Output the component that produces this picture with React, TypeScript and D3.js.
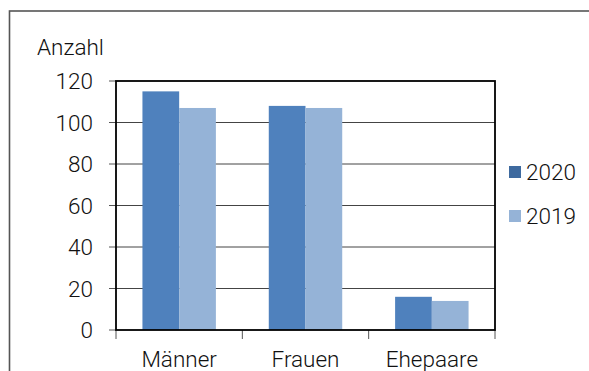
import React from "react";
import * as d3 from "d3";

const categories = ["Männer", "Frauen", "Ehepaare"];
const seriesNames = ["2020", "2019"];
const values2020 = [115, 108, 16];
const values2019 = [107, 107, 14];
const yTicks = [0, 20, 40, 60, 80, 100, 120];

const colors = ["#4F81BD", "#95B3D7"];
const legendColors = ["#3E6A9F", "#95B3D7"];
const font = "Roboto, 'Liberation Sans', sans-serif";
const fs = 22.5;

const App = () => {
  const width = 589;
  const height = 371;
  const left = 116;
  const right = 495;
  const top = 81;
  const bottom = 330;

  const x = d3.scaleBand().domain(categories).range([left, right]);
  const x1 = d3
    .scaleBand()
    .domain(seriesNames)
    .range([0, x.bandwidth()])
    .paddingOuter(0.72)
    .paddingInner(0);
  const y = d3.scaleLinear().domain([0, 120]).range([bottom, top]);

  const series = [values2020, values2019];

  return (
    <svg
      width={width}
      height={height}
      style={{ position: "absolute", left: 0, top: 0, background: "#fff" }}
      fontFamily={font}
      fontWeight={300}
    >
      <rect x={9.5} y={11} width={620} height={400} fill="#fff" stroke="#555" strokeWidth={1.6} />
      <text x={37} y={55} fontSize={fs} fill="#111">Anzahl</text>

      {yTicks.map((t) => (
        <g key={t}>
          {t > 0 && t < 120 && (
            <line x1={left} x2={right} y1={y(t)} y2={y(t)} stroke="#444" strokeWidth={1} />
          )}
          <line x1={left - 7} x2={left} y1={y(t)} y2={y(t)} stroke="#555" strokeWidth={1} />
          <text x={93} y={y(t)} dy="0.36em" textAnchor="end" fontSize={fs} fill="#111">
            {t}
          </text>
        </g>
      ))}

      {categories.map((c, i) => (
        <g key={c}>
          {series.map((s, j) => (
            <rect
              key={j}
              x={(x(c) as number) + (x1(seriesNames[j]) as number)}
              y={y(s[i])}
              width={x1.bandwidth()}
              height={bottom - y(s[i])}
              fill={colors[j]}
            />
          ))}
          <text
            x={(x(c) as number) + x.bandwidth() / 2}
            y={367}
            textAnchor="middle"
            fontSize={fs}
            fill="#111"
          >
            {c}
          </text>
        </g>
      ))}

      {[...categories.map((c) => x(c) as number), right].map((v, i) => (
        <line key={i} x1={v} x2={v} y1={bottom} y2={bottom + 9} stroke="#555" strokeWidth={1} />
      ))}

      <rect
        x={left}
        y={top}
        width={right - left}
        height={bottom - top}
        fill="none"
        stroke="#000"
        strokeWidth={1.8}
      />

      {seriesNames.map((n, j) => (
        <g key={n} transform={`translate(509, ${166 + j * 44})`}>
          <rect width={12} height={12} fill={legendColors[j]} />
          <text x={17} y={6} dy="0.36em" fontSize={fs} fill="#111">
            {n}
          </text>
        </g>
      ))}
    </svg>
  );
};

export default App;
